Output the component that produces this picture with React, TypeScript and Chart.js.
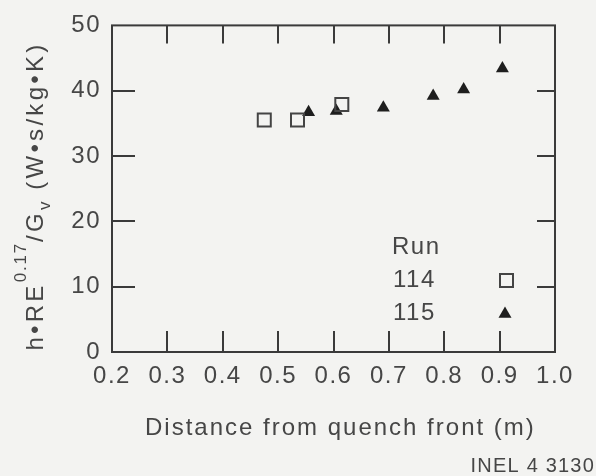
import React, { useEffect, useRef } from "react";
import { Chart, registerables } from "chart.js";

Chart.register(...registerables);

// ---- data ----
const run114X = [0.475, 0.535, 0.615];
const run114Y = [35.5, 35.5, 37.9];
const run115X = [0.555, 0.605, 0.69, 0.78, 0.835, 0.905];
const run115Y = [36.7, 36.9, 37.4, 39.2, 40.2, 43.4];

const xTickValues = [0.2, 0.3, 0.4, 0.5, 0.6, 0.7, 0.8, 0.9, 1.0];
const yTickValues = [0, 10, 20, 30, 40, 50];

const xTitle = "Distance from quench front (m)";
const yTitleParts = [
  { text: "h•RE", kind: "normal" },
  { text: "0.17", kind: "sup" },
  { text: "/G", kind: "normal" },
  { text: "v", kind: "sub" },
  { text: " (W•s/kg•K)", kind: "normal" },
];
const legendTitle = "Run";
const seriesNames = ["114", "115"];
const figureId = "INEL 4 3130";

const FONT = "'Liberation Sans', Arial, Helvetica, sans-serif";
const BG = "#f3f3f1";
const INK = "#3a3a3a";
const TEXT = "#464646";
const MARK = "#1e1e1e";

const decor = {
  id: "decor",
  beforeDraw(chart: any) {
    const { ctx, width, height } = chart;
    ctx.save();
    ctx.fillStyle = BG;
    ctx.fillRect(0, 0, width, height);
    ctx.restore();
    (ctx as any).letterSpacing = "1.5px";
  },
  afterDraw(chart: any) {
    const { ctx, chartArea: a, scales } = chart;
    const xs = scales.x;
    const ys = scales.y;
    ctx.save();
    (ctx as any).letterSpacing = "0px";
    // frame
    ctx.strokeStyle = INK;
    ctx.lineWidth = 2;
    ctx.strokeRect(a.left, a.top, a.right - a.left, a.bottom - a.top);
    // inward ticks
    ctx.beginPath();
    for (const v of xTickValues.slice(1, -1)) {
      const px = Math.round(xs.getPixelForValue(v));
      ctx.moveTo(px, a.bottom);
      ctx.lineTo(px, a.bottom - 21);
      ctx.moveTo(px, a.top);
      ctx.lineTo(px, a.top + 18);
    }
    for (const v of yTickValues.slice(1, -1)) {
      const py = Math.round(ys.getPixelForValue(v));
      ctx.moveTo(a.left, py);
      ctx.lineTo(a.left + 23, py);
      ctx.moveTo(a.right, py);
      ctx.lineTo(a.right - 18, py);
    }
    ctx.stroke();

    // x title
    ctx.fillStyle = TEXT;
    ctx.font = `24px ${FONT}`;
    (ctx as any).letterSpacing = "2px";
    ctx.textAlign = "left";
    ctx.textBaseline = "middle";
    ctx.fillText(xTitle, 145, 428);

    // y title with superscript / subscript
    const seg = (kind: string) => {
      if (kind === "normal") {
        ctx.font = `24px ${FONT}`;
        (ctx as any).letterSpacing = "3.3px";
        return 0;
      }
      ctx.font = `17px ${FONT}`;
      (ctx as any).letterSpacing = "1.8px";
      return kind === "sup" ? -17 : 7;
    };
    let total = 0;
    for (const p of yTitleParts) {
      seg(p.kind);
      total += ctx.measureText(p.text).width;
    }
    ctx.save();
    ctx.translate(43, 196 + total / 2);
    ctx.rotate(-Math.PI / 2);
    ctx.textAlign = "left";
    ctx.textBaseline = "alphabetic";
    let cx = 0;
    for (const p of yTitleParts) {
      const dy = seg(p.kind);
      ctx.fillText(p.text, cx, dy);
      cx += ctx.measureText(p.text).width;
    }
    ctx.restore();

    // legend
    ctx.font = `24px ${FONT}`;
    (ctx as any).letterSpacing = "1.5px";
    ctx.textAlign = "left";
    ctx.textBaseline = "middle";
    ctx.fillStyle = TEXT;
    ctx.fillText(legendTitle, 392, 247);
    ctx.fillText(seriesNames[0], 393, 280);
    ctx.fillText(seriesNames[1], 393, 313);
    // legend markers
    ctx.strokeStyle = "#444";
    ctx.lineWidth = 2;
    ctx.strokeRect(500, 274, 13, 13);
    ctx.fillStyle = MARK;
    const tx = 505, ty = 314, r = 7.5;
    ctx.beginPath();
    ctx.moveTo(tx, ty - r);
    ctx.lineTo(tx + r * Math.sin((2 * Math.PI) / 3), ty - r * Math.cos((2 * Math.PI) / 3));
    ctx.lineTo(tx + r * Math.sin((4 * Math.PI) / 3), ty - r * Math.cos((4 * Math.PI) / 3));
    ctx.closePath();
    ctx.fill();

    // figure id
    ctx.font = `20px ${FONT}`;
    (ctx as any).letterSpacing = "1.2px";
    ctx.textAlign = "right";
    ctx.fillStyle = TEXT;
    ctx.fillText(figureId, 595, 466);
    ctx.restore();
  },
};

export default function App() {
  const ref = useRef<HTMLCanvasElement | null>(null);
  useEffect(() => {
    if (!ref.current) return;
    const chart = new Chart(ref.current, {
      type: "scatter",
      data: {
        datasets: [
          {
            label: seriesNames[0],
            data: run114X.map((x, i) => ({ x, y: run114Y[i] })),
            pointStyle: "rect",
            pointRadius: 9.2,
            pointBorderWidth: 2,
            pointBorderColor: "#444",
            pointBackgroundColor: "rgba(0,0,0,0)",
          },
          {
            label: seriesNames[1],
            data: run115X.map((x, i) => ({ x, y: run115Y[i] })),
            pointStyle: "triangle",
            pointRadius: 7.5,
            pointBorderWidth: 0,
            pointBackgroundColor: MARK,
            pointBorderColor: MARK,
          },
        ],
      },
      plugins: [decor],
      options: {
        responsive: false,
        devicePixelRatio: 1,
        animation: false,
        layout: { padding: { top: 18, right: 41, left: 0, bottom: 0 } },
        plugins: {
          legend: { display: false },
          tooltip: { enabled: false },
          title: { display: false },
        },
        scales: {
          x: {
            type: "linear",
            min: 0.2,
            max: 1.0,
            afterBuildTicks: (s: any) => {
              s.ticks = xTickValues.map((v) => ({ value: v }));
            },
            afterFit: (s: any) => {
              s.height = 124;
            },
            grid: { display: false, drawTicks: false },
            border: { display: false },
            ticks: {
              padding: 10,
              color: TEXT,
              font: { family: FONT, size: 24 },
              maxRotation: 0,
              autoSkip: false,
              callback: (v: any) => Number(v).toFixed(1),
            },
          },
          y: {
            type: "linear",
            min: 0,
            max: 50,
            afterBuildTicks: (s: any) => {
              s.ticks = yTickValues.map((v) => ({ value: v }));
            },
            afterFit: (s: any) => {
              s.width = 112;
            },
            grid: { display: false, drawTicks: false },
            border: { display: false },
            ticks: {
              padding: 11,
              color: TEXT,
              font: { family: FONT, size: 24 },
              autoSkip: false,
              callback: (v: any) => String(v),
            },
          },
        },
      },
    } as any);
    return () => chart.destroy();
  }, []);
  return (
    <div style={{ position: "fixed", left: 0, top: 0, width: 596, height: 476, background: BG }}>
      <canvas ref={ref} width={596} height={476} style={{ display: "block" }} />
    </div>
  );
}
